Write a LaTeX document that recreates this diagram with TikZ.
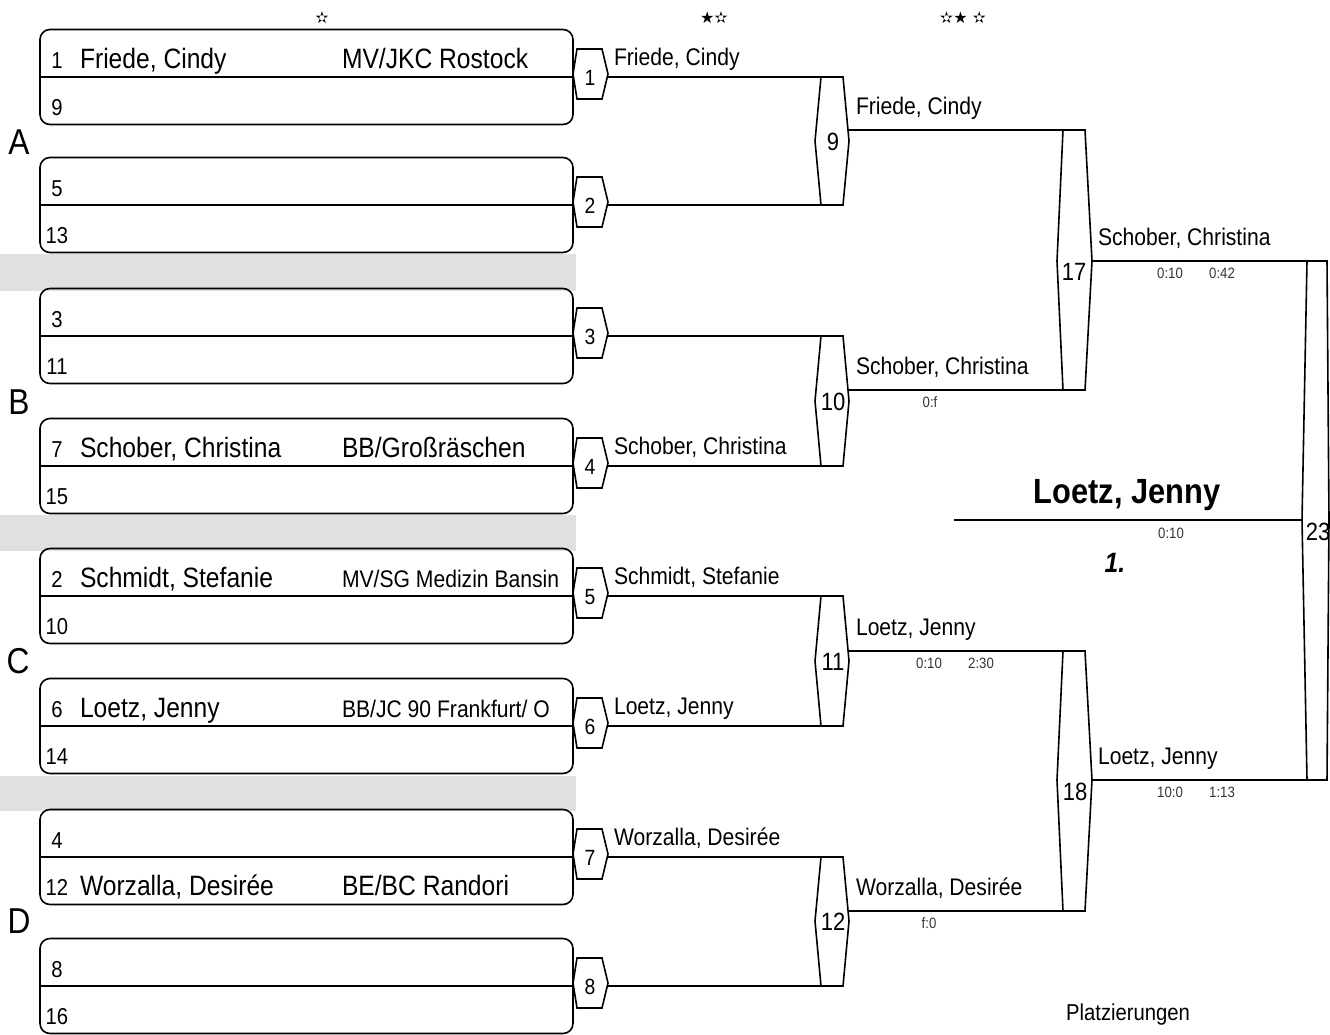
\documentclass[tikz,border=0pt]{standalone}
\usepackage{fontspec}
\setmainfont{Liberation Sans}[FakeStretch=0.88]
\newfontfamily\starfont{DejaVu Sans}
\newcommand{\fsz}[1]{\fontsize{#1}{#1}\selectfont}
\newcommand{\mkhex}[8]{%
 \coordinate (#1-l) at (#2,#7);
 \coordinate (#1-tl) at (#3,#6);
 \coordinate (#1-tr) at (#4,#6);
 \coordinate (#1-r) at (#5,#7);
 \coordinate (#1-br) at (#4,#8);
 \coordinate (#1-bl) at (#3,#8);
 \draw[ln] (#1-tl) -- (#1-tr) -- (#1-r) -- (#1-br) -- (#1-bl) -- (#1-l) -- cycle;
}
\newcommand{\mkbox}[2]{%
 \node[boxst] (#1) at (306.5,#2) {};
 \draw[ln] (#1.west) -- (#1.east);
}
\newcommand{\smallhex}[2]{\mkhex{#1}{573}{577}{602}{608}{#2-28}{#2-3}{#2+22}\coordinate (#1-o) at (607,#2);}
\tikzset{
 every node/.style={inner sep=0pt, outer sep=0pt},
 ln/.style={line width=1.6pt},
 boxst/.style={draw, rounded corners=10pt, minimum width=533pt, minimum height=95pt, line width=1.6pt},
 bnum/.style={font=\fsz{23}, anchor=base},
 bname/.style={font=\fsz{28}, anchor=base west},
 bclub/.style={font=\fsz{28}, anchor=base west},
 bclubs/.style={font=\fsz{24}, anchor=base west},
 lname/.style={font=\fsz{24}, anchor=base west},
 score/.style={font=\fsz{15}, anchor=base, text=black!80},
 hnum/.style={font=\fsz{22}},
 hnumb/.style={font=\fsz{25}},
 pool/.style={font=\fsz{36}},
 band/.style={fill=black!12},
 stars/.style={font=\starfont\fsz{16}},
}
\begin{document}
\begin{tikzpicture}[x=1pt,y=-1pt]
\useasboundingbox (0,0) rectangle (1330,1034);
% gray bands
\fill[band] (0,254) rectangle (576,291);
\fill[band] (0,515) rectangle (576,551);
\fill[band] (0,776) rectangle (576,811);
% stars
\node[stars] (st1) at (322,18) {✫};
\node[stars] (st2) at (714,18) {★✫};
\node[stars] (st3) at (963,18) {✫★ ✫};
% boxes
\mkbox{b1}{77}
\mkbox{b2}{205}
\mkbox{b3}{336}
\mkbox{b4}{466}
\mkbox{b5}{596}
\mkbox{b6}{726}
\mkbox{b7}{857}
\mkbox{b8}{986}
% box texts
\node[bnum] (t1a) at (57,68) {1};
\node[bname] (t1n) at (80,68) {Friede, Cindy};
\node[bclub] (t1c) at (342,68) {MV/JKC Rostock};
\node[bnum] (t1b) at (57,115) {9};
\node[bnum] (t2a) at (57,196) {5};
\node[bnum] (t2b) at (57,243) {13};
\node[bnum] (t3a) at (57,327) {3};
\node[bnum] (t3b) at (57,374) {11};
\node[bnum] (t4a) at (57,457) {7};
\node[bname] (t4n) at (80,457) {Schober, Christina};
\node[bclub] (t4c) at (342,457) {BB/Großräschen};
\node[bnum] (t4b) at (57,504) {15};
\node[bnum] (t5a) at (57,587) {2};
\node[bname] (t5n) at (80,587) {Schmidt, Stefanie};
\node[bclubs] (t5c) at (342,587) {MV/SG Medizin Bansin};
\node[bnum] (t5b) at (57,634) {10};
\node[bnum] (t6a) at (57,717) {6};
\node[bname] (t6n) at (80,717) {Loetz, Jenny};
\node[bclubs] (t6c) at (342,717) {BB/JC 90 Frankfurt/ O};
\node[bnum] (t6b) at (57,764) {14};
\node[bnum] (t7a) at (57,848) {4};
\node[bnum] (t7b) at (57,895) {12};
\node[bname] (t7n) at (80,895) {Worzalla, Desirée};
\node[bclub] (t7c) at (342,895) {BE/BC Randori};
\node[bnum] (t8a) at (57,977) {8};
\node[bnum] (t8b) at (57,1024) {16};
% pool letters
\node[pool] (pA) at (19,142) {A};
\node[pool] (pB) at (19,402) {B};
\node[pool] (pC) at (18,661) {C};
\node[pool] (pD) at (19,921) {D};
% round 1 hexagons
\smallhex{h1}{77}
\smallhex{h2}{205}
\smallhex{h3}{336}
\smallhex{h4}{466}
\smallhex{h5}{596}
\smallhex{h6}{726}
\smallhex{h7}{857}
\smallhex{h8}{986}
\node[hnum] (n1) at (590,78) {1};
\node[hnum] (n2) at (590,206) {2};
\node[hnum] (n3) at (590,337) {3};
\node[hnum] (n4) at (590,467) {4};
\node[hnum] (n5) at (590,597) {5};
\node[hnum] (n6) at (590,727) {6};
\node[hnum] (n7) at (590,858) {7};
\node[hnum] (n8) at (590,987) {8};
% round 2 hexagons
\mkhex{h9}{815}{821}{843}{849}{77}{141}{205}
\mkhex{h10}{815}{821}{843}{849}{336}{401}{466}
\mkhex{h11}{815}{821}{843}{849}{596}{661}{726}
\mkhex{h12}{815}{821}{843}{849}{857}{921}{986}
\node[hnumb] (n9) at (833,142) {9};
\node[hnumb] (n10) at (833,402) {10};
\node[hnumb] (n11) at (833,662) {11};
\node[hnumb] (n12) at (833,922) {12};
\coordinate (o9) at (848,130);
\coordinate (o10) at (848,390);
\coordinate (o11) at (848,651);
\coordinate (o12) at (848,911);
% round 3 hexagons
\mkhex{h17}{1057}{1063}{1085}{1092}{130}{261}{390}
\mkhex{h18}{1057}{1063}{1085}{1092}{651}{780}{911}
\node[hnumb] (n17) at (1074,272) {17};
\node[hnumb] (n18) at (1075,792) {18};
% final
\mkhex{h23}{1302}{1307}{1327}{1329}{261}{520}{780}
\node[hnumb] (n23) at (1318,532) {23};
\coordinate (win) at (954,520);
% connectors
\draw[ln] (h1-o) -- (h9-tl);
\draw[ln] (h2-o) -- (h9-bl);
\draw[ln] (h3-o) -- (h10-tl);
\draw[ln] (h4-o) -- (h10-bl);
\draw[ln] (h5-o) -- (h11-tl);
\draw[ln] (h6-o) -- (h11-bl);
\draw[ln] (h7-o) -- (h12-tl);
\draw[ln] (h8-o) -- (h12-bl);
\draw[ln] (o9) -- (h17-tl);
\draw[ln] (o10) -- (h17-bl);
\draw[ln] (o11) -- (h18-tl);
\draw[ln] (o12) -- (h18-bl);
\draw[ln] (h17-r) -- (h23-tl);
\draw[ln] (h18-r) -- (h23-bl);
\draw[ln] (win) -- (h23-l);
% line labels round 1
\node[lname] (l1) at (614,65) {Friede, Cindy};
\node[lname] (l4) at (614,454) {Schober, Christina};
\node[lname] (l5) at (614,584) {Schmidt, Stefanie};
\node[lname] (l6) at (614,714) {Loetz, Jenny};
\node[lname] (l7) at (614,845) {Worzalla, Desirée};
% round 2
\node[lname] (l9) at (856,114) {Friede, Cindy};
\node[lname] (l10) at (856,374) {Schober, Christina};
\node[lname] (l11) at (856,635) {Loetz, Jenny};
\node[lname] (l12) at (856,895) {Worzalla, Desirée};
% round 3
\node[lname] (l17) at (1098,245) {Schober, Christina};
\node[lname] (l18) at (1098,764) {Loetz, Jenny};
% scores
\node[score] (s10) at (930,407) {0:f};
\node[score] (s11a) at (929,668) {0:10};
\node[score] (s11b) at (981,668) {2:30};
\node[score] (s12) at (929,928) {f:0};
\node[score] (s17a) at (1170,278) {0:10};
\node[score] (s17b) at (1222,278) {0:42};
\node[score] (s18a) at (1170,797) {10:0};
\node[score] (s18b) at (1222,797) {1:13};
\node[score] (s23) at (1171,538) {0:10};
% winner
\node[font=\bfseries\fsz{35}, anchor=base] (winner) at (1127,503) {Loetz, Jenny};
\node[font=\bfseries\itshape\fsz{28}, anchor=base] (place) at (1115,572) {1.};
\node[font=\fsz{23}, anchor=base] (plz) at (1128,1020) {Platzierungen};
\end{tikzpicture}
\end{document}
